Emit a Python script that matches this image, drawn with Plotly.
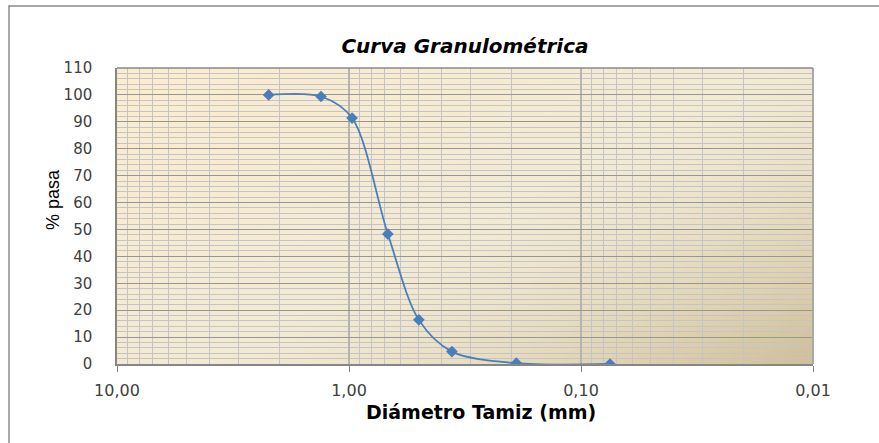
import base64, struct, zlib
import plotly.graph_objects as go

# ---- data ----
diametro_mm = [2.22, 1.32, 0.97, 0.68, 0.50, 0.36, 0.19, 0.075]
pct_pasa = [100.0, 99.4, 91.4, 48.3, 16.4, 4.6, 0.3, 0.0]
x_tickvals = [10, 1, 0.1, 0.01]
x_ticktext = ["10,00", "1,00", "0,10", "0,01"]

# ---- gradient background image (pure python png) ----
def gradient_png(w, h):
    tl = (252, 236, 207)
    mid = (243, 234, 212)
    br = (208, 191, 151)
    rows = []
    for j in range(h):
        row = bytearray([0])
        for i in range(w):
            t = (i / (w - 1) * 0.55 + j / (h - 1) * 0.45)
            if t < 0.5:
                f = t / 0.5
                c = [tl[k] + (mid[k] - tl[k]) * f for k in range(3)]
            else:
                f = ((t - 0.5) / 0.5) ** 1.6
                c = [mid[k] + (br[k] - mid[k]) * f for k in range(3)]
            row += bytes(int(round(v)) for v in c)
        rows.append(bytes(row))
    raw = b"".join(rows)

    def chunk(tag, data):
        return (struct.pack(">I", len(data)) + tag + data +
                struct.pack(">I", zlib.crc32(tag + data) & 0xFFFFFFFF))
    png = b"\x89PNG\r\n\x1a\n"
    png += chunk(b"IHDR", struct.pack(">IIBBBBB", w, h, 8, 2, 0, 0, 0))
    png += chunk(b"IDAT", zlib.compress(raw, 9))
    png += chunk(b"IEND", b"")
    return "data:image/png;base64," + base64.b64encode(png).decode()

bg = gradient_png(140, 60)

blue = "#4a7ebb"
fig = go.Figure()
fig.add_trace(go.Scatter(
    x=diametro_mm, y=pct_pasa, mode="lines+markers",
    line=dict(color=blue, width=1.8, shape="spline", smoothing=0.9),
    marker=dict(symbol="diamond", size=9, color=blue),
    showlegend=False, hoverinfo="x+y",
))

minor_x = [m * 10 ** e for e in (-2, -1, 0) for m in range(2, 10)]

L, R, T, B = 117, 66, 68, 79
W, H = 879, 443
pw, ph = W - L - R, H - T - B

fig.update_layout(
    width=W, height=H,
    margin=dict(l=L, r=R, t=T, b=B),
    paper_bgcolor="white",
    plot_bgcolor="rgba(0,0,0,0)",
    title=dict(text="<b><i>Curva Granulométrica</i></b>",
               font=dict(family="DejaVu Sans", size=20, color="black"),
               x=0.5, xref="paper", y=1 - 46 / H, yref="container",
               xanchor="center", yanchor="middle"),
    images=[dict(source=bg, xref="paper", yref="paper", x=0, y=1,
                 sizex=1, sizey=1, sizing="stretch", layer="below",
                 xanchor="left", yanchor="top")],
    xaxis=dict(
        type="log", range=[1, -2],
        tickmode="array", tickvals=x_tickvals, ticktext=x_ticktext,
        ticks="outside", ticklen=6, tickcolor="#868686",
        ticklabelstandoff=5,
        tickfont=dict(family="DejaVu Sans", size=16, color="#404040"),
        showgrid=True, gridcolor="#b4b4b4", gridwidth=2,
        minor=dict(tickmode="array", tickvals=minor_x, showgrid=True,
                   gridcolor="#c4c4c4", gridwidth=1, ticks=""),
        showline=True, linecolor="#868686", linewidth=1.5,
        zeroline=False, mirror=False,
    ),
    yaxis=dict(
        range=[0, 110], tickmode="linear", tick0=0, dtick=10,
        ticks="", ticklabelstandoff=20,
        tickfont=dict(family="DejaVu Sans", size=15, color="#404040"),
        showgrid=True, gridcolor="#969696", gridwidth=1,
        minor=dict(dtick=2, showgrid=True, gridcolor="#c4c4c4", gridwidth=1, ticks=""),
        showline=True, linecolor="#868686", linewidth=1.5,
        zeroline=False,
    ),
    annotations=[
        dict(text="<b>Diámetro Tamiz (mm)</b>", xref="paper", yref="paper",
             x=(481 - L) / pw, y=(H - B - 412) / ph, xanchor="center", yanchor="middle",
             showarrow=False, font=dict(family="DejaVu Sans", size=19, color="black")),
        dict(text="% pasa", xref="paper", yref="paper",
             x=(53 - L) / pw, y=(H - B - 200) / ph, xanchor="center", yanchor="middle",
             textangle=-90, showarrow=False,
             font=dict(family="Liberation Sans", size=18, color="black")),
    ],
    shapes=[
        dict(type="rect", xref="paper", yref="paper",
             x0=(9 - L) / pw, x1=(900 - L) / pw,
             y0=(H - B - 460) / ph, y1=(H - B - 6) / ph,
             line=dict(color="#8a8a8a", width=1.5), fillcolor="rgba(0,0,0,0)", layer="below"),
        dict(type="line", xref="paper", yref="paper", x0=1, x1=1, y0=0, y1=1,
             line=dict(color="#a9a9a9", width=2)),
        dict(type="line", xref="paper", yref="paper", x0=0, x1=1, y0=1, y1=1,
             line=dict(color="#8a8a8a", width=1.5)),
    ],
)

fig.write_html("out.html", config={"displayModeBar": False},
               post_script="document.body.style.margin='0';document.body.style.overflow='hidden';")
